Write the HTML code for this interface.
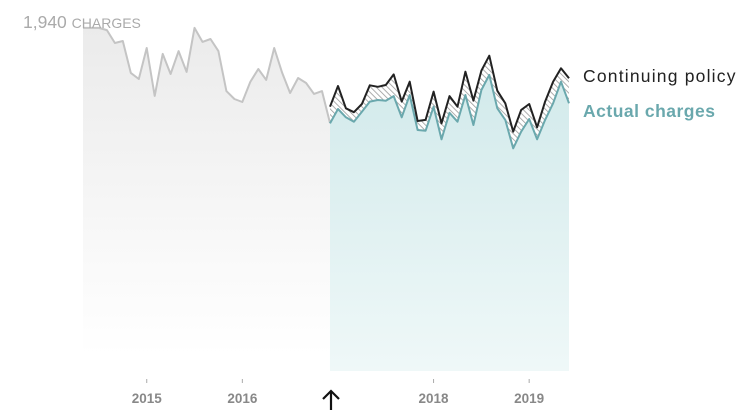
<!DOCTYPE html>
<html><head><meta charset="utf-8"><style>
body{margin:0;background:#fff;width:748px;height:415px;overflow:hidden;font-family:"Liberation Sans",sans-serif}
</style></head><body>
<svg id="chart" width="748" height="415" viewBox="0 0 748 415" xmlns="http://www.w3.org/2000/svg">
<defs>
<linearGradient id="gGray" x1="0" y1="0" x2="0" y2="1"><stop offset="0" stop-color="#ebebeb"/><stop offset="1" stop-color="#ffffff"/></linearGradient>
<linearGradient id="gTeal" x1="0" y1="0" x2="0" y2="1"><stop offset="0" stop-color="#d2eaeb"/><stop offset="1" stop-color="#eff8f8"/></linearGradient>
<pattern id="hatch" patternUnits="userSpaceOnUse" width="4" height="4" patternTransform="rotate(-45)"><rect width="4" height="4" fill="#fff"/><line x1="0" y1="0" x2="0" y2="4" stroke="#999" stroke-width="1.6"/></pattern>
</defs>
<g id="plot"></g>
<text x="23" y="28" font-size="17.5" fill="#aaa">1,940 <tspan font-size="14">CHARGES</tspan></text>
<text x="583" y="82" font-size="17.5" letter-spacing="1.2" fill="#222">Continuing policy</text>
<text x="583" y="117" font-size="17.5" letter-spacing="0.5" font-weight="bold" fill="#6aa8ad">Actual charges</text>
<g stroke="#111" stroke-width="2.2" fill="none"><line x1="331" y1="391" x2="331" y2="410"/><polyline points="323,399 331,391 339,399"/></g>
</svg>
<script>
const grayValues=[1907,1907,1907,1895,1823,1834,1656,1622,1795,1528,1762,1650,1778,1662,1907,1829,1845,1778,1555,1511,1494,1606,1678,1617,1795,1656,1544,1628,1600,1539,1555,1377];
const policyValues=[1468,1583,1459,1437,1483,1587,1579,1589,1648,1496,1607,1388,1394,1552,1375,1527,1468,1663,1502,1669,1752,1557,1487,1329,1450,1483,1353,1496,1607,1682,1626];
const actualValues=[1375,1455,1409,1384,1440,1496,1505,1501,1527,1409,1533,1338,1334,1468,1286,1434,1384,1533,1366,1561,1645,1459,1394,1236,1329,1399,1286,1394,1487,1607,1487];
const yearLabels=["2015","2016","2018","2019"];
const yearIndex=[8,20,44,56];
const splitIndex=31;
const NS="http://www.w3.org/2000/svg";
const x=i=>83+i*(486/61);
const y=v=>370-v*348/1940;
const g=document.getElementById('plot');
function mk(t,a){const e=document.createElementNS(NS,t);for(const k in a)e.setAttribute(k,a[k]);g.appendChild(e);return e;}
const pts=(arr,off)=>arr.map((v,i)=>x(i+off).toFixed(1)+','+y(v).toFixed(1));
const gp=pts(grayValues,0), pp=pts(policyValues,splitIndex), ap=pts(actualValues,splitIndex);
let e=mk('polygon',{points:gp.join(' ')+` ${x(grayValues.length-1)},355 ${x(0)},355`,fill:'url(#gGray)'});


e=mk('polygon',{points:ap.join(' ')+` ${x(splitIndex+actualValues.length-1)},371 ${x(splitIndex)},371`,fill:'url(#gTeal)'});


e=mk('polygon',{points:pp.join(' ')+' '+ap.slice().reverse().join(' '),fill:'url(#hatch)'});


e=mk('polyline',{points:gp.join(' '),fill:'none',stroke:'#c4c4c4','stroke-width':2,'stroke-linejoin':'round'});


e=mk('polyline',{points:ap.join(' '),fill:'none',stroke:'#6aa8ad','stroke-width':2,'stroke-linejoin':'round'});


e=mk('polyline',{points:pp.join(' '),fill:'none',stroke:'#222','stroke-width':2,'stroke-linejoin':'round'});


yearLabels.forEach((l,k)=>{const xx=x(yearIndex[k]);
 const t=mk('line',{x1:xx,x2:xx,y1:379,y2:383,stroke:'#aaa','stroke-width':1});
 
 
 const tx=mk('text',{x:xx,y:403,'text-anchor':'middle','font-size':13.5,'font-weight':'bold',fill:'#888'});
 tx.textContent=l;
 
 
});
</script>
</body></html>
